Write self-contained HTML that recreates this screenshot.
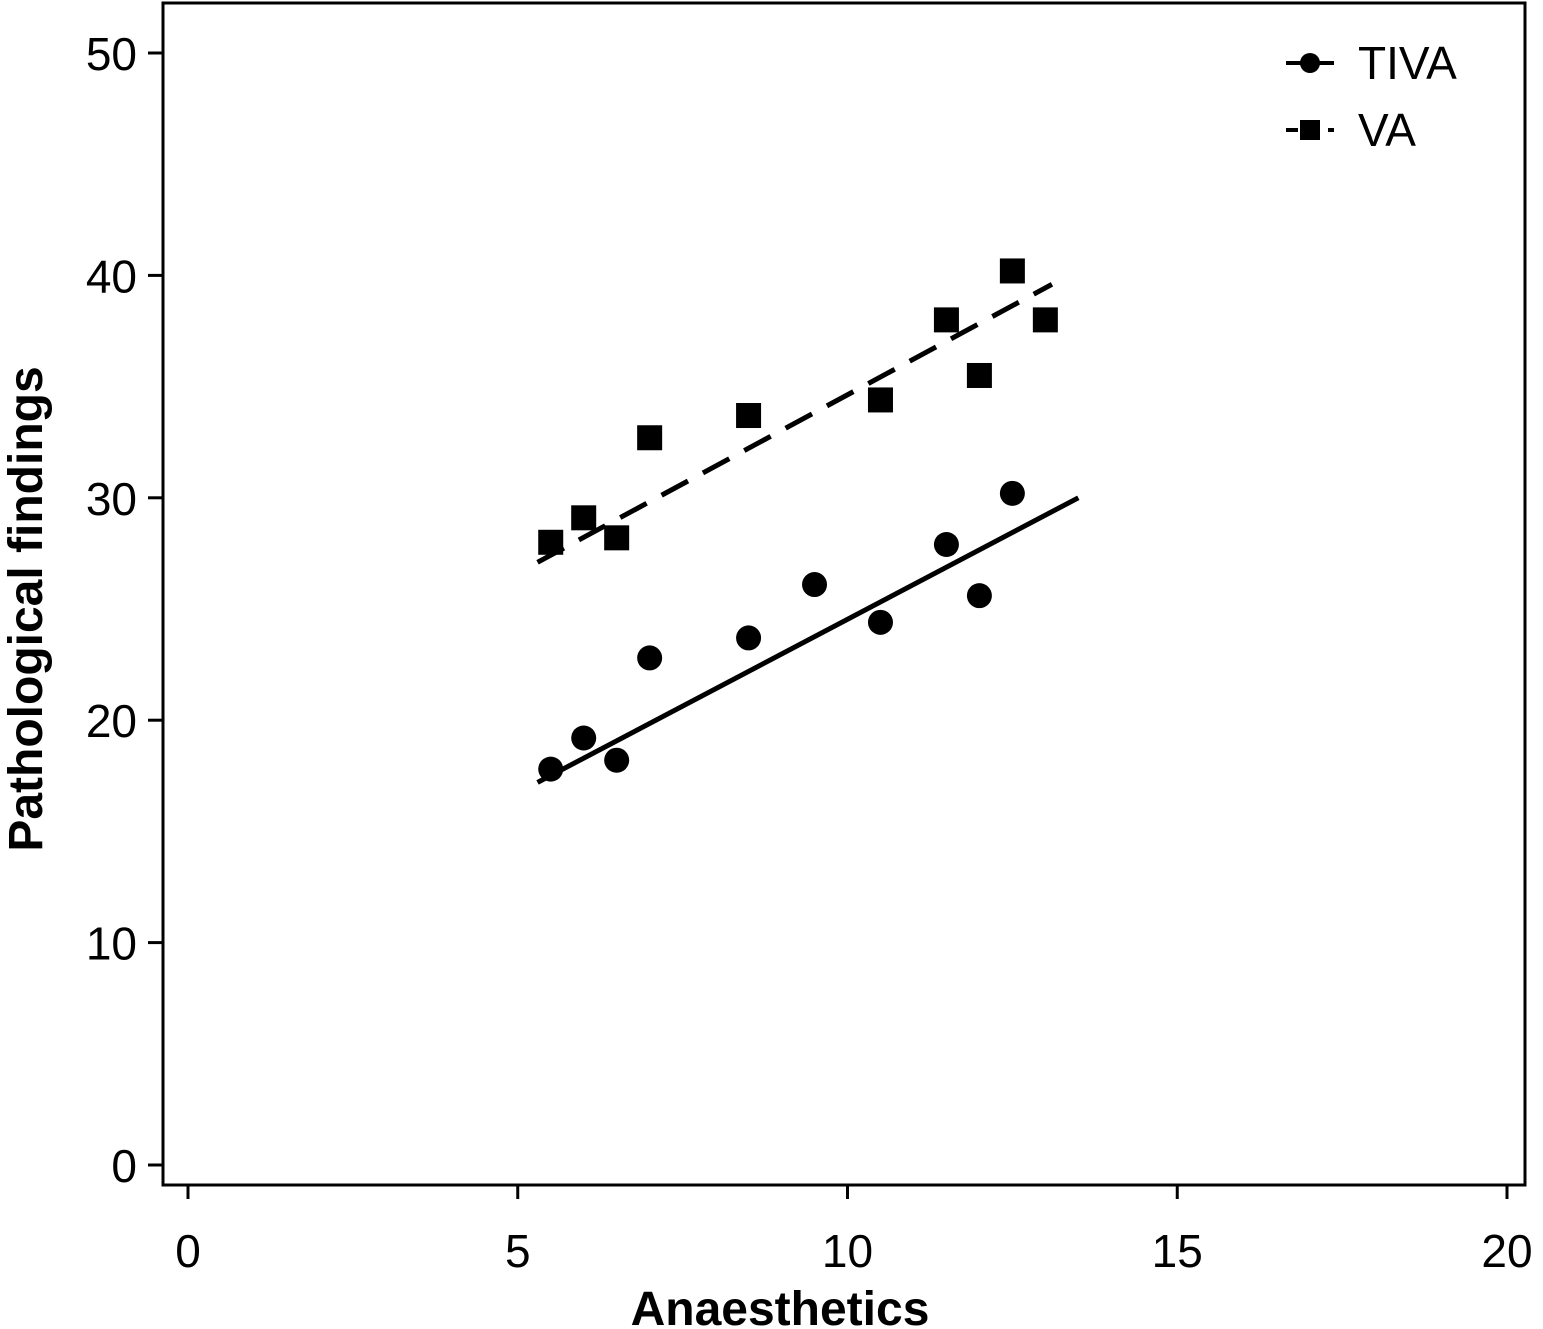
<!DOCTYPE html>
<html><head><meta charset="utf-8"><style>
html,body{margin:0;padding:0;background:#fff;}
svg{display:block;font-family:"Liberation Sans",sans-serif;}
</style></head><body>
<svg id="chart" width="1543" height="1329" viewBox="0 0 1543 1329">
<rect x="163" y="3" width="1362" height="1182" fill="none" stroke="#000" stroke-width="3"/>
<g id="axes"></g>
<g id="marks"></g>
<text x="780" y="1325" text-anchor="middle" font-size="48" font-weight="bold">Anaesthetics</text>
<text transform="translate(42,609) rotate(-90)" text-anchor="middle" font-size="48" font-weight="bold">Pathological findings</text>
<g>
<g>
<line x1="1286" y1="63" x2="1334" y2="63" stroke="#000" stroke-width="4"/>
<circle cx="1310" cy="63" r="10" fill="#000"/>
<text x="1358" y="79" font-size="46">TIVA</text>
</g>
<g>
<line x1="1286" y1="130" x2="1334" y2="130" stroke="#000" stroke-width="4" stroke-dasharray="12,9"/>
<rect x="1300" y="120" width="20" height="20" fill="#000"/>
<text x="1358" y="146" font-size="46">VA</text>
</g>
</g>
</svg>
<script>
const xTicks=[0,5,10,15,20];
const yTicks=[0,10,20,30,40,50];
const tivaX=[5.5,6,6.5,7,8.5,9.5,10.5,11.5,12,12.5];
const tivaY=[17.8,19.2,18.2,22.8,23.7,26.1,24.4,27.9,25.6,30.2];
const vaX=[5.5,6,6.5,7,8.5,10.5,11.5,12,12.5,13];
const vaY=[28.0,29.1,28.2,32.7,33.7,34.4,38.0,35.5,40.2,38.0];
const tivaFitX=[5.3,13.5];
const tivaFitY=[17.2,30.0];
const vaFitX=[5.3,13.1];
const vaFitY=[27.1,39.6];
const NS="http://www.w3.org/2000/svg";
function sx(v){return 188+v*65.95;}
function sy(v){return 1165-v*22.24;}
function mk(tag,attrs,parent){const e=document.createElementNS(NS,tag);for(const k in attrs)e.setAttribute(k,attrs[k]);parent.appendChild(e);return e;}
const axes=document.getElementById('axes');
const marks=document.getElementById('marks');
xTicks.forEach(t=>{
  const l=mk('line',{x1:sx(t),x2:sx(t),y1:1185,y2:1199,stroke:'#000','stroke-width':3},axes);
  
  
  const tx=mk('text',{x:sx(t),y:1267,'text-anchor':'middle','font-size':46},axes);
  tx.textContent=t;
  
  
});
yTicks.forEach(t=>{
  const l=mk('line',{x1:148,x2:163,y1:sy(t),y2:sy(t),stroke:'#000','stroke-width':3},axes);
  
  
  const tx=mk('text',{x:137,y:sy(t)+17,'text-anchor':'end','font-size':46},axes);
  tx.textContent=t;
  
  
});
const l1=mk('line',{x1:sx(tivaFitX[0]),y1:sy(tivaFitY[0]),x2:sx(tivaFitX[1]),y2:sy(tivaFitY[1]),stroke:'#000','stroke-width':5},marks);


const l2=mk('line',{x1:sx(vaFitX[0]),y1:sy(vaFitY[0]),x2:sx(vaFitX[1]),y2:sy(vaFitY[1]),stroke:'#000','stroke-width':5,'stroke-dasharray':'30,17'},marks);


tivaX.forEach((x,i)=>{
  const c=mk('circle',{cx:sx(x),cy:sy(tivaY[i]),r:12.5,fill:'#000'},marks);
  
  
});
vaX.forEach((x,i)=>{
  const r=mk('rect',{x:sx(x)-12.5,y:sy(vaY[i])-12.5,width:25,height:25,fill:'#000'},marks);
  
  
});
</script>
</body></html>
